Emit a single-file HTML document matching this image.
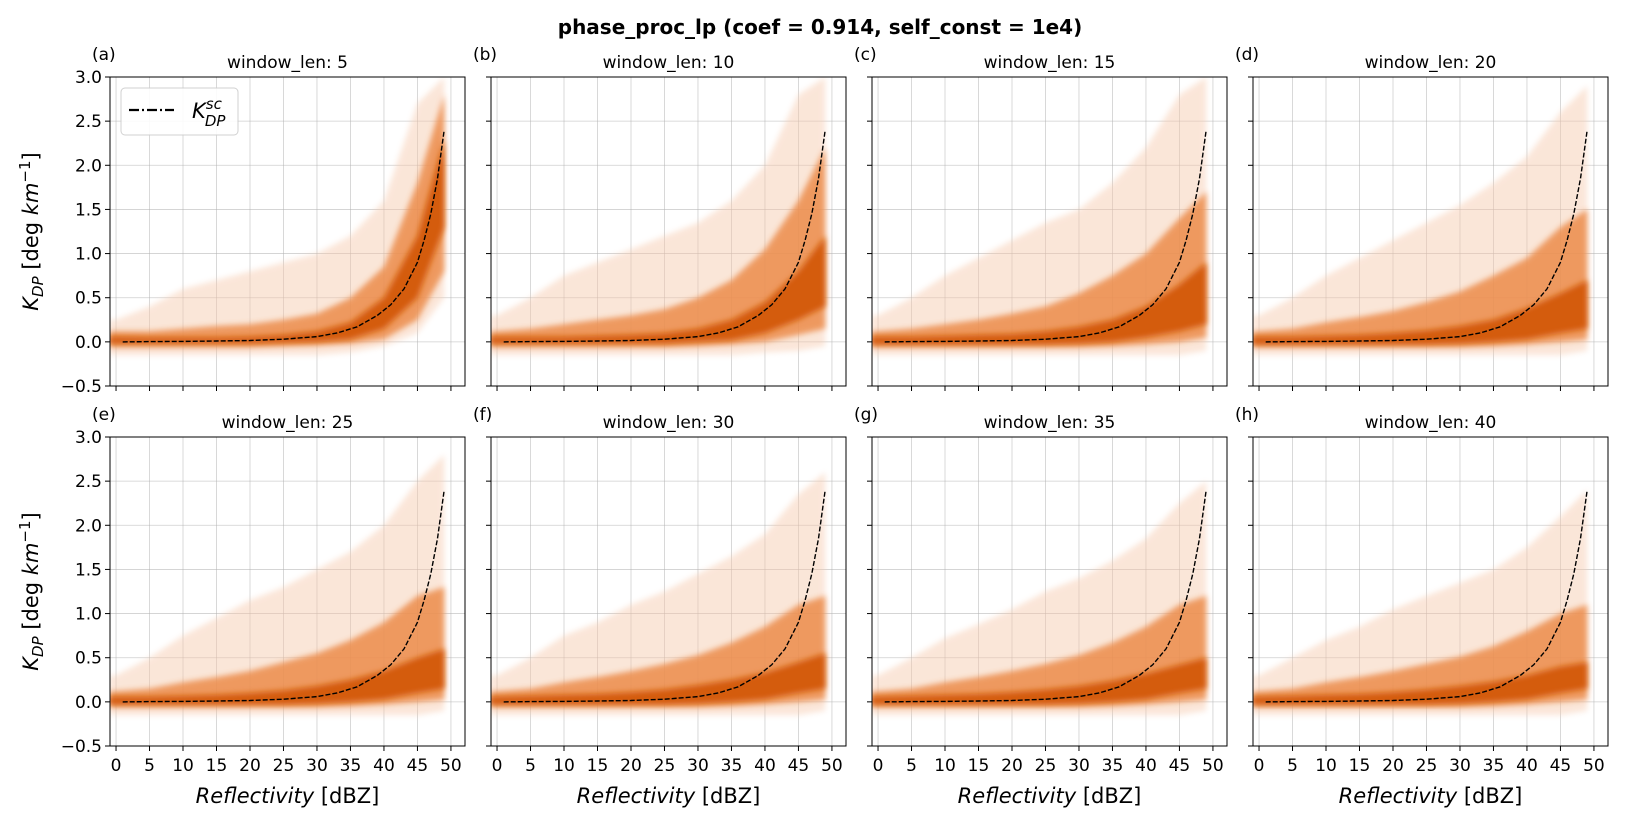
<!DOCTYPE html>
<html><head><meta charset="utf-8">
<style>
body{margin:0;background:#fff;}
svg{display:block;font-family:"DejaVu Sans","Liberation Sans",sans-serif;}
</style></head>
<body>
<svg id="fig" width="1626" height="822" viewBox="0 0 1626 822" xmlns="http://www.w3.org/2000/svg">
<defs>
<filter id="soft" x="-10%" y="-10%" width="120%" height="120%"><feGaussianBlur stdDeviation="3"/></filter>
</defs>
<text x="820" y="34" font-size="20" font-weight="bold" text-anchor="middle">phase_proc_lp (coef = 0.914, self_const = 1e4)</text>
</svg>
<script>
const windowLens = [5,10,15,20,25,30,35,40];
const panelLetters = ["(a)","(b)","(c)","(d)","(e)","(f)","(g)","(h)"];
const zBins = [0,5,10,15,20,25,30,35,40,45,49];
const xTicks = [0,5,10,15,20,25,30,35,40,45,50];
const yTicks = [-0.5,0.0,0.5,1.0,1.5,2.0,2.5,3.0];
const yTickLabels = ["\u22120.5","0.0","0.5","1.0","1.5","2.0","2.5","3.0"];
const kscZ = [1,5,10,15,20,25,30,33,36,39,41,43,45,46,47,48,49];
const kscVals = [0,0.003,0.005,0.01,0.015,0.03,0.06,0.1,0.17,0.3,0.42,0.6,0.9,1.15,1.45,1.85,2.4];
const coreHi = [
[0.06,0.05,0.05,0.05,0.06,0.08,0.12,0.22,0.5,1.2,2.3],
[0.06,0.06,0.06,0.07,0.08,0.1,0.15,0.25,0.45,0.8,1.2],
[0.06,0.06,0.07,0.08,0.09,0.12,0.17,0.25,0.4,0.65,0.9],
[0.06,0.06,0.07,0.08,0.1,0.13,0.18,0.25,0.38,0.55,0.7],
[0.06,0.06,0.07,0.08,0.1,0.13,0.18,0.25,0.35,0.5,0.6],
[0.06,0.07,0.08,0.09,0.11,0.14,0.19,0.25,0.33,0.45,0.55],
[0.06,0.07,0.08,0.09,0.11,0.14,0.18,0.24,0.32,0.42,0.5],
[0.06,0.07,0.08,0.09,0.11,0.14,0.18,0.23,0.3,0.4,0.45]];
const coreLo = [
[-0.02,-0.02,-0.02,-0.02,-0.02,-0.01,0,0.03,0.15,0.5,1.3],
[-0.02,-0.02,-0.02,-0.02,-0.02,-0.02,0,0.02,0.1,0.25,0.4],
[-0.03,-0.03,-0.03,-0.03,-0.03,-0.03,-0.02,0,0.05,0.12,0.2],
[-0.03,-0.03,-0.03,-0.03,-0.03,-0.03,-0.02,0,0.03,0.1,0.15],
[-0.03,-0.03,-0.03,-0.03,-0.03,-0.03,-0.02,0,0.03,0.1,0.15],
[-0.03,-0.03,-0.03,-0.03,-0.03,-0.03,-0.02,0,0.03,0.1,0.15],
[-0.03,-0.03,-0.03,-0.03,-0.03,-0.03,-0.02,0,0.03,0.1,0.15],
[-0.03,-0.03,-0.03,-0.03,-0.03,-0.03,-0.02,0,0.03,0.1,0.15]];
const midHi = [
[0.12,0.12,0.15,0.18,0.2,0.25,0.32,0.5,0.85,1.8,2.8],
[0.12,0.15,0.2,0.25,0.3,0.37,0.5,0.7,1.05,1.6,2.2],
[0.12,0.15,0.2,0.25,0.32,0.4,0.55,0.75,1.0,1.4,1.7],
[0.12,0.15,0.22,0.28,0.35,0.45,0.57,0.75,0.95,1.3,1.5],
[0.12,0.15,0.22,0.28,0.35,0.45,0.55,0.7,0.9,1.2,1.3],
[0.12,0.15,0.22,0.28,0.35,0.43,0.53,0.67,0.85,1.1,1.2],
[0.12,0.15,0.22,0.28,0.35,0.43,0.53,0.67,0.85,1.1,1.2],
[0.12,0.15,0.22,0.28,0.35,0.43,0.51,0.63,0.8,1.0,1.1]];
const midLo = [
[-0.06,-0.06,-0.06,-0.06,-0.06,-0.05,-0.04,-0.02,0.03,0.25,0.8],
[-0.06,-0.06,-0.06,-0.06,-0.06,-0.06,-0.05,-0.03,0,0.08,0.15],
[-0.06,-0.06,-0.06,-0.06,-0.06,-0.06,-0.06,-0.05,-0.03,0,0.05],
[-0.06,-0.06,-0.06,-0.06,-0.06,-0.06,-0.06,-0.05,-0.03,0,0.03],
[-0.06,-0.06,-0.06,-0.06,-0.06,-0.06,-0.06,-0.05,-0.03,0,0.03],
[-0.06,-0.06,-0.06,-0.06,-0.06,-0.06,-0.06,-0.05,-0.03,0,0.03],
[-0.06,-0.06,-0.06,-0.06,-0.06,-0.06,-0.06,-0.05,-0.03,0,0.03],
[-0.06,-0.06,-0.06,-0.06,-0.06,-0.06,-0.06,-0.05,-0.03,0,0.03]];
const outerHi = [
[0.25,0.4,0.6,0.7,0.8,0.9,1.0,1.2,1.6,2.7,3.0],
[0.3,0.5,0.75,0.9,1.05,1.2,1.35,1.6,2.0,2.8,3.0],
[0.3,0.5,0.75,0.95,1.15,1.35,1.5,1.8,2.2,2.8,3.0],
[0.3,0.5,0.75,0.95,1.15,1.35,1.55,1.8,2.1,2.6,2.9],
[0.3,0.5,0.75,0.95,1.15,1.3,1.5,1.7,2.0,2.5,2.8],
[0.3,0.5,0.75,0.9,1.1,1.25,1.45,1.65,1.9,2.35,2.6],
[0.3,0.5,0.72,0.88,1.05,1.25,1.4,1.6,1.85,2.25,2.5],
[0.3,0.5,0.7,0.85,1.05,1.2,1.35,1.5,1.75,2.1,2.4]];
const outerLo = [
[-0.15,-0.15,-0.15,-0.15,-0.15,-0.15,-0.15,-0.12,-0.05,0.1,0.5],
[-0.15,-0.15,-0.15,-0.15,-0.15,-0.15,-0.15,-0.15,-0.12,-0.1,-0.05],
[-0.15,-0.15,-0.15,-0.15,-0.15,-0.15,-0.15,-0.15,-0.15,-0.15,-0.1],
[-0.15,-0.15,-0.15,-0.15,-0.15,-0.15,-0.15,-0.15,-0.15,-0.15,-0.1],
[-0.15,-0.15,-0.15,-0.15,-0.15,-0.15,-0.15,-0.15,-0.15,-0.15,-0.1],
[-0.15,-0.15,-0.15,-0.15,-0.15,-0.15,-0.15,-0.15,-0.15,-0.15,-0.1],
[-0.15,-0.15,-0.15,-0.15,-0.15,-0.15,-0.15,-0.15,-0.15,-0.15,-0.1],
[-0.15,-0.15,-0.15,-0.15,-0.15,-0.15,-0.15,-0.15,-0.15,-0.15,-0.1]];

const NS = "http://www.w3.org/2000/svg";
const svg = document.getElementById("fig");
const colLeft = [110,491,872,1253];
const rowTop = [77,437];
const W = 355, H = 309;
const xMin = -0.9, xMax = 52.1, yMin = -0.5, yMax = 3.0;
function mk(tag, attrs, parent){
  const e = document.createElementNS(NS, tag);
  for (const k in attrs) e.setAttribute(k, attrs[k]);
  (parent||svg).appendChild(e);
  return e;
}
for (let p = 0; p < 8; p++){
  const col = p % 4, row = Math.floor(p / 4);
  const L = colLeft[col], T = rowTop[row];
  const sx = v => L + (v - xMin) / (xMax - xMin) * W;
  const sy = v => T + (yMax - v) / (yMax - yMin) * H;
  const g = mk("g", {});
  
  
  const cid = "clip" + p;
  const cp = mk("clipPath", {id: cid}, g);
  mk("rect", {x: L, y: T, width: W, height: H}, cp);
  xTicks.forEach(t => { const gl = mk("line", {x1: sx(t), x2: sx(t), y1: T, y2: T+H, stroke: "#b0b0b0", "stroke-width": 0.8, opacity: 0.6}, g);
      });
  yTicks.forEach(t => { const gl = mk("line", {x1: L, x2: L+W, y1: sy(t), y2: sy(t), stroke: "#b0b0b0", "stroke-width": 0.8, opacity: 0.6}, g);
      });
  const cg = mk("g", {"clip-path": "url(#" + cid + ")"}, g);
  function band(hi, lo, fill, op, name){
    const pts = [];
    pts.push([sx(-1), sy(lo[0])]);
    pts.push([sx(-1), sy(hi[0])]);
    zBins.forEach((z,i) => pts.push([sx(z), sy(hi[i])]));
    for (let i = zBins.length-1; i >= 0; i--) pts.push([sx(zBins[i]), sy(lo[i])]);
    const poly = mk("polygon", {points: pts.map(q => q[0].toFixed(1)+","+q[1].toFixed(1)).join(" "), fill: fill, opacity: op, filter: "url(#soft)"}, cg);
    
    
  }
  band(outerHi[p], outerLo[p], "rgb(246,200,170)", 0.45, "scatter-sparse-band");
  band(midHi[p], midLo[p], "rgb(236,140,75)", 0.85, "scatter-mid-band");
  band(coreHi[p], coreLo[p], "rgb(212,92,8)", 1, "scatter-dense-core");
  const d = kscZ.map((z,i) => (i ? "L" : "M") + sx(z).toFixed(1) + "," + sy(kscVals[i]).toFixed(1)).join(" ");
  const curve = mk("path", {d: d, fill: "none", stroke: "#000", "stroke-width": 1.4, "stroke-dasharray": "5,2"}, cg);
  
  
  const fr = mk("rect", {x: L, y: T, width: W, height: H, fill: "none", stroke: "#000", "stroke-width": 1}, g);
   
  xTicks.forEach(t => {
    mk("line", {x1: sx(t), x2: sx(t), y1: T+H, y2: T+H+5, stroke: "#000"}, g);
    if (row === 1){
      const tl = mk("text", {x: sx(t), y: T+H+25, "font-size": 17, "text-anchor": "middle"}, g);
      tl.textContent = t;
       
    }
  });
  yTicks.forEach((t,i) => {
    mk("line", {x1: L-5, x2: L, y1: sy(t), y2: sy(t), stroke: "#000"}, g);
    if (col === 0){
      const tl = mk("text", {x: L-8, y: sy(t)+6, "font-size": 17, "text-anchor": "end"}, g);
      tl.textContent = yTickLabels[i];
       
    }
  });
  const st = mk("text", {x: L+W/2, y: T-9, "font-size": 17, "text-anchor": "middle"}, g);
  st.textContent = "window_len: " + windowLens[p];
   
  const lt = mk("text", {x: L-18, y: T-17, "font-size": 17}, g);
  lt.textContent = panelLetters[p];
   
  if (row === 1){
    const xl = mk("text", {x: L+W/2, y: 803, "font-size": 21, "text-anchor": "middle"}, g);
    xl.innerHTML = '<tspan font-style="italic">Reflectivity</tspan> [dBZ]';
     
  }
  if (col === 0){
    const cy = T + H/2;
    const yl = mk("text", {x: 38, y: cy, "font-size": 21, "text-anchor": "middle", transform: "rotate(-90 38 " + cy + ")"}, g);
    yl.innerHTML = '<tspan font-style="italic">K</tspan><tspan font-style="italic" font-size="15" dy="5">DP</tspan><tspan dy="-5"> [deg </tspan><tspan font-style="italic">km</tspan><tspan font-size="15" dy="-8">\u22121</tspan><tspan dy="8">]</tspan>';
     
  }
  if (p === 0){
    const lg = mk("g", {}, g);
     
    mk("rect", {x: 121, y: 88, width: 117, height: 47, rx: 4, fill: "#fff", stroke: "#ccc", opacity: 0.9}, lg);
    const ll = mk("line", {x1: 129, x2: 174, y1: 110, y2: 110, stroke: "#000", "stroke-width": 2.2, "stroke-dasharray": "10,3,2,3"}, lg);
     
    const lx = mk("text", {x: 192, y: 118, "font-size": 21}, lg);
    lx.innerHTML = '<tspan font-style="italic">K</tspan><tspan font-style="italic" font-size="15" dy="-9">sc</tspan><tspan font-style="italic" font-size="15" dx="-17" dy="17">DP</tspan>';
     
  }
}
</script>
</body></html>
